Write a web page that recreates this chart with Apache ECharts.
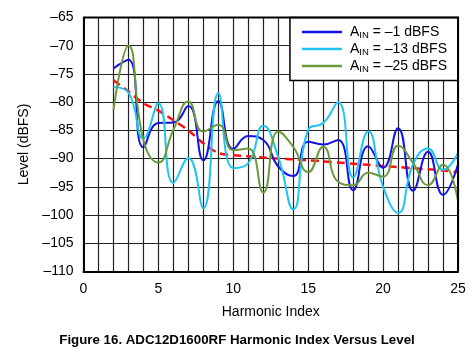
<!DOCTYPE html>
<html>
<head>
<meta charset="utf-8">
<script src="https://cdn.jsdelivr.net/npm/echarts@6/dist/echarts.min.js"></script>
<style>
html, body {margin: 0; padding: 0; background: #fff;}
#chart {width: 474px; height: 354px;}
</style>
</head>
<body>
<div id="chart"></div>
<script>
var harmonics = [2, 3, 4, 5, 6, 7, 8, 9, 10, 11, 12, 13, 14, 15, 16, 17, 18, 19, 20, 21, 22, 23, 24, 25];
var level1 = [-74, -72.5, -88, -83.7, -83.6, -80.7, -90.3, -79.8, -88.3, -86, -86.7, -91.4, -93.1, -87, -87.5, -86.7, -95.6, -87.8, -91.6, -84.6, -95.7, -88.8, -96.4, -91];
var level13 = [-77.3, -78.3, -86.4, -80.2, -94.3, -89.9, -98.8, -78.4, -91.7, -90.8, -84.2, -89.7, -99, -84.9, -83.7, -80, -93.3, -85.2, -95, -99.6, -91, -88.2, -92, -89];
var level25 = [-81.4, -70, -86.7, -90.7, -84.9, -79.9, -85.2, -84, -88.5, -88.2, -96, -85.2, -87.9, -92.4, -87.9, -94.1, -94.7, -92.5, -93.2, -87.7, -90.8, -94.7, -91.1, -97.5];
var trend = [-76.1, -78.1, -80.2, -81.5, -83.2, -85, -87.3, -89, -89.4, -89.6, -89.8, -90, -90.1, -90.3, -90.5, -90.7, -90.9, -91.1, -91.3, -91.5, -91.7, -91.9, -92.1, -92.4];
var legendNames = ['–1 dBFS', '–13 dBFS', '–25 dBFS'];

var font = 'Liberation Sans, Arial, sans-serif';

function pairs(vals){
	var out = [];
	for (var i = 0; i < harmonics.length; i++) {
		out.push([harmonics[i], vals[i]]);
	}
	return out;
}

function curve(name, vals, color){
	return {
		name: name,
		type: 'line',
		smooth: 0.5,
		symbol: 'none',
		lineStyle: {color: color, width: 2},
		itemStyle: {color: color},
		data: pairs(vals)
	};
}

var gridLine = {show: true, lineStyle: {color: '#222', width: 1.2}};

var chart = echarts.init(document.getElementById('chart'));
var option = {
	animation: false,
	textStyle: {fontFamily: font},
	grid: {left: 83.5, right: 16, top: 17.5, bottom: 82.5, containLabel: false},
	title: {
		text: 'Figure 16. ADC12D1600RF Harmonic Index Versus Level',
		left: 'center',
		top: 329,
		textStyle: {fontFamily: font, fontSize: 13.3, fontWeight: 'bold', color: '#000'}
	},
	legend: {
		orient: 'vertical',
		right: 16,
		top: 17.5,
		data: legendNames,
		icon: 'rect',
		itemWidth: 40,
		itemHeight: 2.5,
		itemGap: 0,
		padding: [6, 11, 6, 12],
		borderColor: '#000',
		borderWidth: 1.5,
		backgroundColor: '#fff',
		formatter: function(name){
			return '{a|A}{s|IN}{a| = ' + name + '}';
		},
		textStyle: {
			fontFamily: font,
			color: '#000',
			padding: [0, 0, 0, 3],
			rich: {
				a: {fontFamily: font, fontSize: 14, color: '#000', lineHeight: 16.5},
				s: {fontFamily: font, fontSize: 9.5, color: '#000', lineHeight: 16.5, padding: [7, 0, 0, 0]}
			}
		}
	},
	xAxis: {
		type: 'value',
		min: 0,
		max: 25,
		interval: 5,
		name: 'Harmonic Index',
		nameLocation: 'middle',
		nameGap: 34,
		nameTextStyle: {fontFamily: font, fontSize: 14, color: '#000'},
		axisLine: {show: true, onZero: false, lineStyle: {color: '#000', width: 2}},
		axisTick: {show: false},
		axisLabel: {fontFamily: font, fontSize: 14, color: '#000', margin: 11},
		splitLine: gridLine,
		minorTick: {show: false, splitNumber: 5},
		minorSplitLine: {show: true, lineStyle: {color: '#222', width: 1.2}}
	},
	yAxis: {
		type: 'value',
		min: -110,
		max: -65,
		interval: 5,
		name: 'Level (dBFS)',
		nameLocation: 'middle',
		nameGap: 50,
		nameTextStyle: {fontFamily: font, fontSize: 14, color: '#000'},
		axisLine: {show: true, lineStyle: {color: '#000', width: 2}},
		axisTick: {show: false},
		axisLabel: {
			fontFamily: font, fontSize: 14, color: '#000', margin: 10,
			formatter: function(v){ return String(v).replace('-', '–'); }
		},
		splitLine: gridLine
	},
	series: [
		{
			name: 'trend',
			type: 'line',
			smooth: 0.3,
			symbol: 'none',
			lineStyle: {color: '#ff1010', width: 2.5, type: [8, 5]},
			data: pairs(trend),
			z: 1
		},
		curve(legendNames[0], level1, '#1414e6'),
		curve(legendNames[1], level13, '#22c4f2'),
		curve(legendNames[2], level25, '#6b9a3c')
	],
	graphic: [{
		// right and top frame of the plot box
		type: 'polyline',
		shape: {points: [[83.5, 17.5], [458, 17.5], [458, 271.5]]},
		style: {stroke: '#000', lineWidth: 2, fill: null},
		z: 10
	}]
};
chart.setOption(option);
</script>
</body>
</html>
